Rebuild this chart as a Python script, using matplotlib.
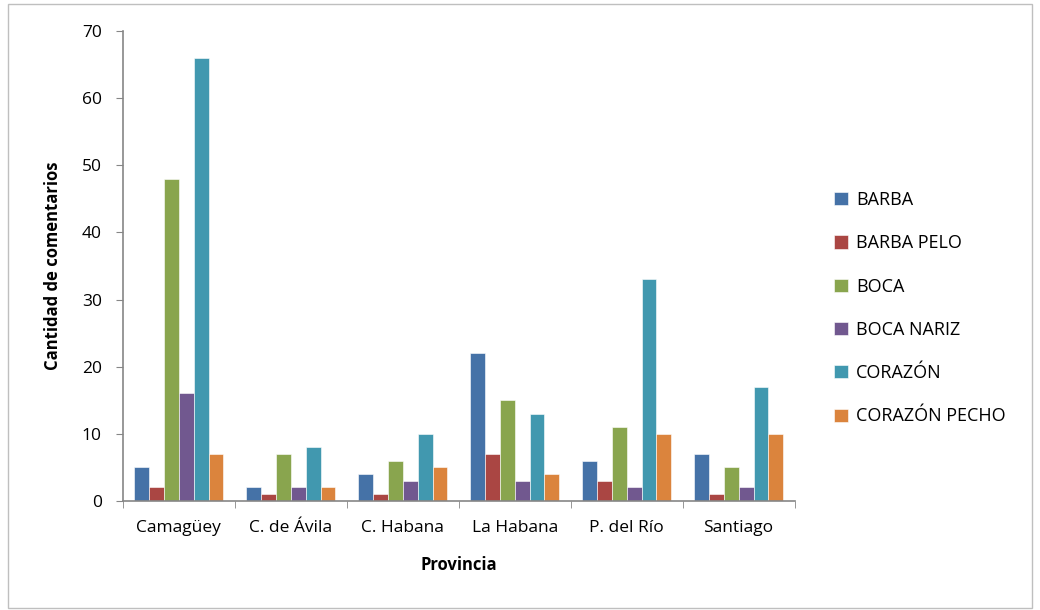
import matplotlib.pyplot as plt
import numpy as np

plt.rcParams['font.family'] = ['Open Sans', 'DejaVu Sans']

provincias = ['Camagüey', 'C. de Ávila', 'C. Habana', 'La Habana', 'P. del Río', 'Santiago']
series = ['BARBA', 'BARBA PELO', 'BOCA', 'BOCA NARIZ', 'CORAZÓN', 'CORAZÓN PECHO']
barba = [5, 2, 4, 22, 6, 7]
barba_pelo = [2, 1, 1, 7, 3, 1]
boca = [48, 7, 6, 15, 11, 5]
boca_nariz = [16, 2, 3, 3, 2, 2]
corazon = [66, 8, 10, 13, 33, 17]
corazon_pecho = [7, 2, 5, 4, 10, 10]
valores = [barba, barba_pelo, boca, boca_nariz, corazon, corazon_pecho]
colores = ['#4572A7', '#AA4643', '#89A54E', '#71588F', '#4198AF', '#DB843D']

fig = plt.figure(figsize=(10.4, 6.1), dpi=100)
ax = fig.add_axes([0.118, 0.179, 0.646, 0.770])

x = np.arange(len(provincias))
n = len(series)
ancho = 0.8 / n
for i, (nombre, vals) in enumerate(zip(series, valores)):
    ax.bar(x - 0.4 + ancho * (i + 0.5), vals, ancho, color=colores[i],
           edgecolor='white', linewidth=0.4, label=nombre)

ax.set_xlim(-0.5, len(provincias) - 0.5)
ax.set_ylim(0, 70)
ax.set_yticks(range(0, 71, 10))
ax.set_xticks(x)
ax.set_xticklabels(provincias, fontsize=12.5)
ax.set_xticks(np.arange(-0.5, len(provincias)), minor=True)
ax.tick_params(axis='x', which='major', length=0, pad=14)
ax.tick_params(axis='x', which='minor', length=5, color='#868686', direction='out')
ax.tick_params(axis='y', length=5, color='#868686', labelsize=12.5, pad=10)

for s in ['top', 'right']:
    ax.spines[s].set_visible(False)
for s in ['left', 'bottom']:
    ax.spines[s].set_color('#868686')
    ax.spines[s].set_linewidth(1.2)

ax.set_ylabel('Cantidad de comentarios', fontsize=12, fontweight='bold', labelpad=14)
ax.set_xlabel('Provincia', fontsize=12, fontweight='bold', labelpad=14)

ax.legend(loc='center left', bbox_to_anchor=(1.035, 0.41), frameon=False,
          fontsize=13, labelspacing=1.4, handlelength=0.75, handleheight=0.75,
          handletextpad=0.45)

fig.patches.append(plt.Rectangle((0.008, 0.004), 0.984, 0.99, transform=fig.transFigure,
                                 fill=False, edgecolor='#BFBFBF', linewidth=1))

fig.savefig('out.png', dpi=100)
